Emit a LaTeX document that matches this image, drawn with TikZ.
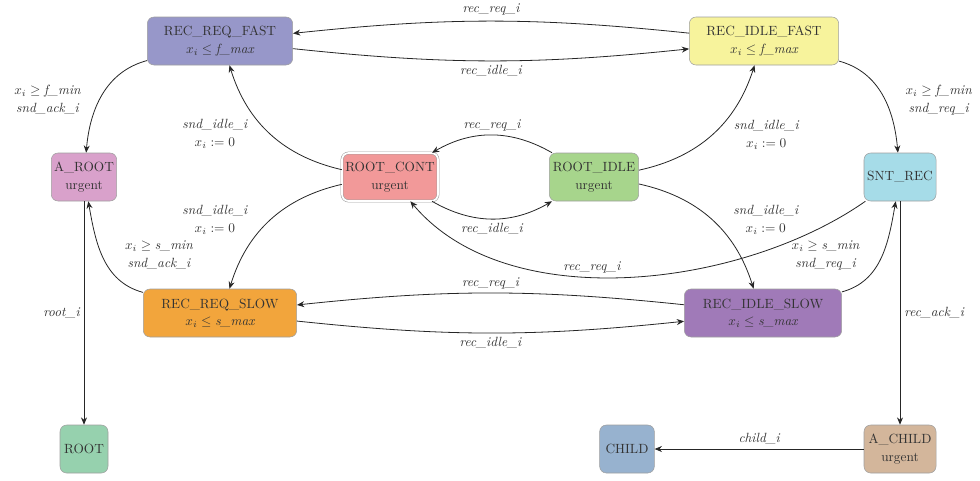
\documentclass[tikz,border=0pt]{standalone}
\usepackage{amsmath,amssymb}
\usepackage{xcolor}
\usepackage{tikz}
\usetikzlibrary{arrows.meta,positioning}
\definecolor{locpurpleblue}{HTML}{9797C9}
\definecolor{locyellow}{HTML}{F7F39C}
\definecolor{locpink}{HTML}{D9A1CB}
\definecolor{locred}{HTML}{F29999}
\definecolor{locgreen}{HTML}{A7D58C}
\definecolor{loccyan}{HTML}{A6DCE8}
\definecolor{locorange}{HTML}{F2A53C}
\definecolor{locviolet}{HTML}{A07AB8}
\definecolor{locmint}{HTML}{96D1AE}
\definecolor{locsteel}{HTML}{97B2CF}
\definecolor{loctan}{HTML}{D3B69B}
\definecolor{edgegray}{HTML}{262626}
\definecolor{textgray}{HTML}{333333}
\tikzset{
  location/.style={draw=gray!75,rounded corners=5pt,minimum height=36pt,inner sep=2pt,align=center,text=textgray,font=\fontsize{10}{13}\selectfont},
  committed/.style={location,double=white,double distance=1.3pt},
  trans/.style={-{Stealth[length=5.5pt,width=4.5pt]},line width=0.6pt,edgegray},
  guard/.style={font=\fontsize{10}{13.5}\selectfont\itshape,text=textgray,align=center,inner sep=3pt}
}

\begin{document}
\begin{tikzpicture}[x=0.75pt,y=-0.75pt]
  \useasboundingbox (0,0) rectangle (980,480);
  \node[location,fill=locpurpleblue,minimum width=109pt] (reqfast) at (220,41) {REC\_REQ\_FAST\\$x_i \leq \textit{f\_max}$};
  \node[location,fill=locyellow,minimum width=112pt] (idlefast) at (764,41) {REC\_IDLE\_FAST\\$x_i \leq \textit{f\_max}$};
  \node[location,fill=locpink,minimum width=49pt] (aroot) at (84,177) {A\_ROOT\\urgent};
  \node[committed,fill=locred,minimum width=72pt] (rootcont) at (390,177) {ROOT\_CONT\\urgent};
  \node[location,fill=locgreen,minimum width=67pt] (rootidle) at (594,177) {ROOT\_IDLE\\urgent};
  \node[location,fill=loccyan,minimum width=54pt] (sntrec) at (900,177) {SNT\_REC};
  \node[location,fill=locorange,minimum width=115pt] (reqslow) at (220,313) {REC\_REQ\_SLOW\\$x_i \leq \textit{s\_max}$};
  \node[location,fill=locviolet,minimum width=118pt] (idleslow) at (763,313) {REC\_IDLE\_SLOW\\$x_i \leq \textit{s\_max}$};
  \node[location,fill=locmint,minimum width=36pt] (root) at (84,449) {ROOT};
  \node[location,fill=locsteel,minimum width=41pt] (child) at (627,449) {CHILD};
  \node[location,fill=loctan,minimum width=54pt] (achild) at (900,449) {A\_CHILD\\urgent};

  \draw[trans] (idlefast) to[bend right=6] node[guard,above,yshift=1pt] {rec\_req\_i} (reqfast);
  \draw[trans] (reqfast) to[bend right=6] node[guard,below] {rec\_idle\_i} (idlefast);
  \draw[trans] (rootidle) to[bend right=30] node[guard,above] {rec\_req\_i} (rootcont);
  \draw[trans] (rootcont) to[bend right=30] node[guard,below] {rec\_idle\_i} (rootidle);
  \draw[trans] (idleslow) to[bend right=6] node[guard,above] {rec\_req\_i} (reqslow);
  \draw[trans] (reqslow) to[bend right=6] node[guard,below] {rec\_idle\_i} (idleslow);

  \draw[trans] (rootcont) to[bend left=30] node[guard,left,xshift=-14pt] {snd\_idle\_i\\$x_i := 0$} (reqfast);
  \draw[trans] (rootidle) to[bend right=30] node[guard,right,xshift=13pt] {snd\_idle\_i\\$x_i := 0$} (idlefast);
  \draw[trans] (rootcont) to[bend right=30] node[guard,left,xshift=-14pt] {snd\_idle\_i\\$x_i := 0$} (reqslow);
  \draw[trans] (rootidle) to[bend left=30] node[guard,right,xshift=13pt] {snd\_idle\_i\\$x_i := 0$} (idleslow);

  \draw[trans] (reqfast) to[out=195,in=85] node[guard,left,xshift=-13pt,yshift=-4pt] {$x_i \geq \textit{f\_min}$\\snd\_ack\_i} (aroot);
  \draw[trans] (idlefast) to[out=-15,in=95] node[guard,right,xshift=14pt,yshift=-4pt] {$x_i \geq \textit{f\_min}$\\snd\_req\_i} (sntrec);
  \draw[trans] (reqslow) to[out=165,in=-80] node[guard,right,xshift=13pt,yshift=2pt] {$x_i \geq \textit{s\_min}$\\snd\_ack\_i} (aroot);
  \draw[trans] (idleslow) to[out=15,in=-100] node[guard,left,xshift=-13pt,yshift=2pt] {$x_i \geq \textit{s\_min}$\\snd\_req\_i} (sntrec);

  \draw[trans] (sntrec) to[out=215,in=-50,looseness=0.85] node[guard,above,pos=0.57] {rec\_req\_i} (rootcont);

  \draw[trans] (aroot) -- node[guard,left] {root\_i} (root);
  \draw[trans] (sntrec) -- node[guard,right] {rec\_ack\_i} (achild);
  \draw[trans] (achild) -- node[guard,above] {child\_i} (child);
\end{tikzpicture}
\end{document}
